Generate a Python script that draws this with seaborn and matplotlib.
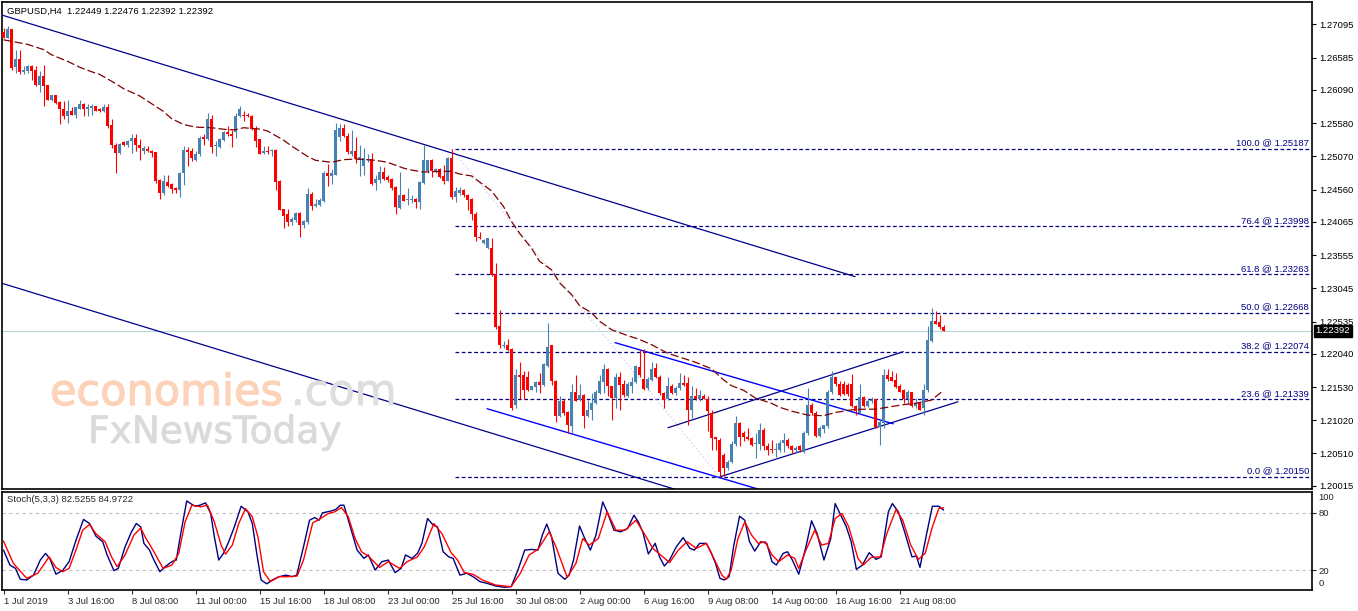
import numpy as np
import pandas as pd
import matplotlib
matplotlib.use("Agg")
import matplotlib.pyplot as plt
import matplotlib.patheffects as pe
import seaborn as sns

opens = [
    1.2698, 1.2688, 1.2702, 1.2644, 1.2656, 1.2636, 1.2638, 1.2645, 1.2639, 1.2617,
    1.2631, 1.2616, 1.2593, 1.2601, 1.2590, 1.2580, 1.2569, 1.2576, 1.2570, 1.2580,
    1.2588, 1.2580, 1.2581, 1.2585, 1.2580, 1.2576, 1.2583, 1.2555, 1.2525, 1.2512,
    1.2529, 1.2525, 1.2530, 1.2535, 1.2524, 1.2516, 1.2519, 1.2516, 1.2513, 1.2471,
    1.2451, 1.2468, 1.2464, 1.2459, 1.2455, 1.2481, 1.2517, 1.2515, 1.2501, 1.2510,
    1.2537, 1.2534, 1.2564, 1.2523, 1.2522, 1.2532, 1.2544, 1.2542, 1.2544, 1.2569,
    1.2571, 1.2571, 1.2569, 1.2551, 1.2533, 1.2512, 1.2516, 1.2515, 1.2517, 1.2469,
    1.2426, 1.2418, 1.2406, 1.2409, 1.2420, 1.2402, 1.2407, 1.2450, 1.2431, 1.2433,
    1.2438, 1.2481, 1.2477, 1.2479, 1.2537, 1.2550, 1.2539, 1.2510, 1.2516, 1.2502,
    1.2492, 1.2502, 1.2503, 1.2466, 1.2471, 1.2483, 1.2475, 1.2473, 1.2460, 1.2428,
    1.2448, 1.2440, 1.2440, 1.2442, 1.2437, 1.2466, 1.2484, 1.2501, 1.2483, 1.2487,
    1.2477, 1.2470, 1.2505, 1.2445, 1.2451, 1.2455, 1.2448, 1.2441, 1.2419, 1.2384,
    1.2374, 1.2366, 1.2366, 1.2326, 1.2246, 1.2216, 1.2218, 1.2211, 1.2126, 1.2172,
    1.2172, 1.2168, 1.2149, 1.2153, 1.2160, 1.2156, 1.2186, 1.2217, 1.2162, 1.2109,
    1.2131, 1.2114, 1.2093, 1.2146, 1.2133, 1.2141, 1.2108, 1.2118, 1.2129, 1.2144,
    1.2160, 1.2180, 1.2154, 1.2136, 1.2169, 1.2157, 1.2139, 1.2154, 1.2160, 1.2183,
    1.2166, 1.2151, 1.2164, 1.2182, 1.2169, 1.2144, 1.2134, 1.2155, 1.2144, 1.2151,
    1.2159, 1.2159, 1.2118, 1.2140, 1.2134, 1.2140, 1.2135, 1.2113, 1.2076, 1.2072,
    1.2049, 1.2029, 1.2038, 1.2066, 1.2098, 1.2083, 1.2077, 1.2075, 1.2066, 1.2066,
    1.2087, 1.2062, 1.2058, 1.2056, 1.2056, 1.2067, 1.2071, 1.2062, 1.2057, 1.2062,
    1.2054, 1.2082, 1.2126, 1.2113, 1.2078, 1.2088, 1.2093, 1.2145, 1.2168, 1.2157,
    1.2157, 1.2156, 1.2157, 1.2124, 1.2113, 1.2138, 1.2124, 1.2131, 1.2134, 1.2092,
    1.2098, 1.2172, 1.2169, 1.2164, 1.2154, 1.2148, 1.2135, 1.2145, 1.2124, 1.2128,
    1.2121, 1.2149, 1.2223, 1.2254, 1.2253, 1.22449,
]
highs = [
    1.2704, 1.2707, 1.2702, 1.2671, 1.2671, 1.2645, 1.2648, 1.2647, 1.2645, 1.2638,
    1.2647, 1.2616, 1.2602, 1.2602, 1.2592, 1.2592, 1.2593, 1.2583, 1.2583, 1.2593,
    1.2589, 1.2587, 1.2587, 1.2585, 1.2582, 1.2587, 1.2588, 1.2564, 1.2527, 1.2528,
    1.2530, 1.2532, 1.2541, 1.2541, 1.2533, 1.2523, 1.2523, 1.2517, 1.2513, 1.2472,
    1.2479, 1.2478, 1.2466, 1.2460, 1.2483, 1.2523, 1.2522, 1.2520, 1.2515, 1.2539,
    1.2542, 1.2573, 1.2571, 1.2530, 1.2535, 1.2546, 1.2554, 1.2548, 1.2574, 1.2584,
    1.2577, 1.2573, 1.2570, 1.2553, 1.2534, 1.2523, 1.2523, 1.2519, 1.2518, 1.2471,
    1.2427, 1.2426, 1.2414, 1.2421, 1.2421, 1.2410, 1.2458, 1.2452, 1.2441, 1.2443,
    1.2485, 1.2496, 1.2487, 1.2558, 1.2557, 1.2556, 1.2543, 1.2547, 1.2537, 1.2524,
    1.2520, 1.2511, 1.2512, 1.2479, 1.2492, 1.2491, 1.2479, 1.2474, 1.2461, 1.2483,
    1.2449, 1.2458, 1.2447, 1.2443, 1.2469, 1.2525, 1.2502, 1.2503, 1.2489, 1.2489,
    1.2494, 1.2506, 1.25187, 1.2460, 1.2460, 1.2457, 1.2449, 1.2443, 1.2421, 1.2391,
    1.2380, 1.2382, 1.2382, 1.2343, 1.2272, 1.2223, 1.2226, 1.2213, 1.2180, 1.2192,
    1.2177, 1.2177, 1.2155, 1.2162, 1.2174, 1.2190, 1.2251, 1.2218, 1.2164, 1.2139,
    1.2134, 1.2116, 1.2157, 1.2172, 1.2157, 1.2143, 1.2133, 1.2144, 1.2149, 1.2172,
    1.2189, 1.2182, 1.2155, 1.2174, 1.2176, 1.2164, 1.2160, 1.2169, 1.2187, 1.2210,
    1.2211, 1.2169, 1.2192, 1.2190, 1.2172, 1.2146, 1.2169, 1.2157, 1.2154, 1.2175,
    1.2172, 1.2169, 1.2155, 1.2151, 1.2149, 1.2142, 1.2139, 1.2118, 1.2077, 1.2075,
    1.2051, 1.2041, 1.2070, 1.2108, 1.2100, 1.2085, 1.2090, 1.2077, 1.2082, 1.2098,
    1.2090, 1.2067, 1.2072, 1.2067, 1.2072, 1.2082, 1.2075, 1.2064, 1.2063, 1.2064,
    1.2085, 1.2151, 1.2128, 1.2116, 1.2093, 1.2095, 1.2149, 1.2177, 1.2169, 1.2162,
    1.2162, 1.2159, 1.2173, 1.2126, 1.2157, 1.2139, 1.2134, 1.2138, 1.2135, 1.2103,
    1.2181, 1.2180, 1.2177, 1.2174, 1.2157, 1.2150, 1.2149, 1.2146, 1.2136, 1.2129,
    1.2157, 1.2246, 1.2274, 1.2269, 1.2264, 1.22476,
]
lows = [
    1.2688, 1.2688, 1.2640, 1.2635, 1.2633, 1.2633, 1.2635, 1.2625, 1.2615, 1.2606,
    1.2584, 1.2593, 1.2592, 1.2588, 1.2557, 1.2564, 1.2558, 1.2571, 1.2566, 1.2579,
    1.2569, 1.2569, 1.2570, 1.2576, 1.2575, 1.2575, 1.2551, 1.2520, 1.2482, 1.2511,
    1.2523, 1.2521, 1.2512, 1.2515, 1.2501, 1.2510, 1.2513, 1.2506, 1.2466, 1.2441,
    1.2448, 1.2460, 1.2451, 1.2451, 1.2444, 1.2463, 1.2492, 1.2500, 1.2500, 1.2507,
    1.2525, 1.2532, 1.2512, 1.2508, 1.2520, 1.2530, 1.2538, 1.2522, 1.2536, 1.2567,
    1.2561, 1.2568, 1.2548, 1.2522, 1.2510, 1.2510, 1.2510, 1.2508, 1.2456, 1.2424,
    1.2397, 1.2400, 1.2401, 1.2407, 1.2383, 1.2397, 1.2404, 1.2424, 1.2430, 1.2431,
    1.2437, 1.2461, 1.2465, 1.2478, 1.2530, 1.2537, 1.2510, 1.2508, 1.2497, 1.2477,
    1.2479, 1.2498, 1.2463, 1.2455, 1.2466, 1.2471, 1.2467, 1.2456, 1.2418, 1.2426,
    1.2438, 1.2433, 1.2436, 1.2428, 1.2426, 1.2465, 1.2482, 1.2475, 1.2481, 1.2474,
    1.2464, 1.2469, 1.2441, 1.2437, 1.2448, 1.2445, 1.2425, 1.2410, 1.2377, 1.2380,
    1.2373, 1.2365, 1.2323, 1.2242, 1.2213, 1.2213, 1.2209, 1.2118, 1.2121, 1.2134,
    1.2135, 1.2147, 1.2148, 1.2146, 1.2144, 1.2155, 1.2184, 1.2156, 1.2100, 1.2107,
    1.2110, 1.2082, 1.2082, 1.2131, 1.2131, 1.2090, 1.2107, 1.2103, 1.2127, 1.2142,
    1.2144, 1.2139, 1.2103, 1.2121, 1.2118, 1.2138, 1.2137, 1.2144, 1.2159, 1.2169,
    1.2148, 1.2149, 1.2162, 1.2167, 1.2141, 1.2121, 1.2133, 1.2143, 1.2141, 1.2149,
    1.2154, 1.2095, 1.2105, 1.2133, 1.2131, 1.2134, 1.2085, 1.2057, 1.2056, 1.2015,
    1.2017, 1.2026, 1.2036, 1.2062, 1.2062, 1.2070, 1.2072, 1.2063, 1.2044, 1.2057,
    1.2057, 1.2049, 1.2052, 1.2046, 1.2054, 1.2054, 1.2059, 1.2052, 1.2051, 1.2053,
    1.2052, 1.2080, 1.2110, 1.2077, 1.2077, 1.2082, 1.2090, 1.2143, 1.2155, 1.2140,
    1.2141, 1.2140, 1.2123, 1.2110, 1.2112, 1.2123, 1.2123, 1.2128, 1.2090, 1.2064,
    1.2090, 1.2163, 1.2162, 1.2151, 1.2145, 1.2128, 1.2127, 1.2122, 1.2121, 1.2117,
    1.2110, 1.2146, 1.2222, 1.2249, 1.2242, 1.22392,
]
closes = [
    1.2688, 1.2702, 1.2643, 1.2656, 1.2636, 1.2639, 1.2645, 1.2638, 1.2617, 1.2631,
    1.2615, 1.2593, 1.2601, 1.2589, 1.2579, 1.2569, 1.2576, 1.2571, 1.2583, 1.2587,
    1.2580, 1.2583, 1.2585, 1.2577, 1.2576, 1.2583, 1.2554, 1.2524, 1.2512, 1.2526,
    1.2525, 1.2531, 1.2536, 1.2524, 1.2520, 1.2520, 1.2515, 1.2512, 1.2470, 1.2451,
    1.2469, 1.2461, 1.2457, 1.2455, 1.2482, 1.2517, 1.2513, 1.2505, 1.2511, 1.2536,
    1.2534, 1.2564, 1.2522, 1.2525, 1.2533, 1.2544, 1.2542, 1.2538, 1.2569, 1.2579,
    1.2569, 1.2569, 1.2549, 1.2530, 1.2511, 1.2516, 1.2514, 1.2517, 1.2467, 1.2425,
    1.2416, 1.2406, 1.2411, 1.2420, 1.2402, 1.2408, 1.2450, 1.2431, 1.2434, 1.2440,
    1.2481, 1.2477, 1.2481, 1.2547, 1.2550, 1.2538, 1.2513, 1.2515, 1.2503, 1.2506,
    1.2504, 1.2503, 1.2464, 1.2473, 1.2483, 1.2473, 1.2471, 1.2458, 1.2429, 1.2448,
    1.2439, 1.2442, 1.2442, 1.2437, 1.2467, 1.2501, 1.2501, 1.2484, 1.2487, 1.2475,
    1.2470, 1.2505, 1.2444, 1.2454, 1.2455, 1.2447, 1.2440, 1.2419, 1.2383, 1.2381,
    1.2379, 1.2381, 1.2325, 1.2245, 1.2217, 1.2218, 1.2210, 1.2121, 1.2172, 1.2169,
    1.2149, 1.2149, 1.2154, 1.2160, 1.2156, 1.2188, 1.2215, 1.2162, 1.2108, 1.2131,
    1.2113, 1.2094, 1.2146, 1.2132, 1.2141, 1.2108, 1.2118, 1.2129, 1.2146, 1.2163,
    1.2180, 1.2154, 1.2136, 1.2169, 1.2156, 1.2141, 1.2157, 1.2161, 1.2185, 1.2171,
    1.2150, 1.2165, 1.2181, 1.2169, 1.2144, 1.2133, 1.2155, 1.2144, 1.2152, 1.2159,
    1.2156, 1.2117, 1.2139, 1.2134, 1.2141, 1.2135, 1.2116, 1.2075, 1.2073, 1.2023,
    1.2029, 1.2038, 1.2066, 1.2098, 1.2077, 1.2076, 1.2073, 1.2064, 1.2067, 1.2087,
    1.2062, 1.2057, 1.2056, 1.2058, 1.2067, 1.2071, 1.2062, 1.2056, 1.2059, 1.2056,
    1.2082, 1.2126, 1.2113, 1.2078, 1.2090, 1.2094, 1.2146, 1.2168, 1.2157, 1.2141,
    1.2142, 1.2143, 1.2124, 1.2116, 1.2138, 1.2124, 1.2131, 1.2133, 1.2092, 1.2099,
    1.2172, 1.2165, 1.2163, 1.2153, 1.2146, 1.2135, 1.2145, 1.2124, 1.2128, 1.2118,
    1.2149, 1.2225, 1.2255, 1.2250, 1.2245, 1.22392,
]

# moyenne mobile (ligne rouge foncé en tirets), lue à intervalles réguliers
ma_bars = [0, 6, 10, 12, 16, 19, 22, 24, 28, 30, 34, 36, 40, 42, 45, 48, 52, 56, 58, 60,
           64, 66, 70, 72, 76, 78, 82, 85, 88, 93, 96, 100, 102, 105, 109, 112, 114, 117, 122, 125,
           127, 129, 132, 134, 137, 139, 142, 144, 147, 149, 152, 156, 159, 162, 166, 170, 173, 177, 180, 182,
           185, 188, 192, 194, 197, 201, 205, 208, 212, 215, 218, 222, 225, 228, 232, 235]
ma_vals = [1.2686, 1.2679, 1.2671, 1.2663, 1.2653, 1.2644, 1.2637, 1.2633, 1.2619, 1.2611,
           1.2600, 1.2592, 1.2576, 1.2565, 1.2556, 1.2552, 1.2551, 1.2548, 1.2548, 1.2551,
           1.2549, 1.2546, 1.2532, 1.2523, 1.2507, 1.2501, 1.2498, 1.2502, 1.2503, 1.2501,
           1.2498, 1.2489, 1.2486, 1.2483, 1.2484, 1.2484, 1.2480, 1.2477, 1.2454, 1.2430,
           1.2407, 1.2389, 1.2366, 1.2346, 1.2333, 1.2313, 1.2295, 1.2278, 1.2267, 1.2254,
           1.2241, 1.2232, 1.2226, 1.2218, 1.2205, 1.2197, 1.2191, 1.2181, 1.2164, 1.2155,
           1.2148, 1.2136, 1.2128, 1.2122, 1.2116, 1.2110, 1.2109, 1.2114, 1.2118, 1.2119,
           1.2119, 1.2123, 1.2126, 1.2128, 1.2133, 1.2148]

k_bars = [0, 1.6, 3, 4.2, 5.8, 7.5, 9.2, 10.5, 11.6, 13.1,
          14.8, 16.4, 18.1, 20, 21.5, 23.1, 24.8, 25.9, 27.6, 28.7,
          30.4, 32, 33.2, 34.3, 35.1, 36.5, 37.6, 39.1, 40.4, 42.1,
          43.2, 44.3, 45.8, 46.9, 47.9, 49.1, 50.5, 51.8, 52.7, 53.8,
          55, 56.3, 57.7, 59.4, 61.1, 62.2, 63.3, 64.4, 65.8, 67.2,
          68.9, 70.6, 72.2, 73.3, 75, 76.5, 77.8, 78.9, 79.7, 81.7,
          83, 84.2, 85.1, 86.7, 88.4, 90.1, 91.2, 92.9, 94.6, 96.2,
          97.9, 99.4, 100.5, 102.1, 103.5, 104.6, 106, 107.4, 108.5, 109.9,
          111.3, 112.4, 114.1, 115.8, 117.4, 119.1, 120.8, 123, 125.2, 126.9,
          128.6, 130.3, 132, 133.6, 134.7, 135.8, 137, 138.6, 140.3, 141.4,
          142.5, 144, 145.3, 146.7, 148.1, 149.8, 150.9, 152.6, 154.3, 156,
          157.6, 158.7, 159.8, 161.2, 162.9, 164, 165.2, 166.5, 168.2, 169.9,
          171.6, 172.7, 174, 175.7, 176.8, 178, 179.1, 180.2, 181.4, 182.5,
          184, 185.3, 186.5, 187.8, 189.3, 190.8, 192.1, 193.2, 194.9, 196,
          197.2, 198.8, 200.6, 202, 203.4, 205.1, 206.8, 207.9, 209.1, 210.7,
          211.9, 213.2, 214.7, 216.4, 218.1, 219.4, 221.2, 222.2, 223.7, 225.4,
          227.1, 228.2, 229.1, 230.7, 232.2, 233.8, 235]
k_vals = [41, 25.5, 22, 10.7, 10, 15, 30.7, 37.6, 32, 16,
          20, 29, 51, 72.8, 68.6, 55.5, 49.7, 36, 19.7, 22,
          44.5, 60, 68.6, 65, 48, 41, 30.7, 18.6, 23.8, 29,
          30.7, 58, 92, 89, 86.5, 87.6, 90, 79, 55, 30.7,
          37.6, 49.7, 65, 86.5, 80.7, 68.6, 37.6, 10, 6, 10,
          13.4, 15, 13.4, 15, 44.5, 72, 74.8, 72, 79.6, 81.4,
          83, 87.6, 87.6, 65, 41, 32.4, 36, 20.3, 29, 30.7,
          17.6, 22, 36, 32.4, 37.6, 48, 73.8, 67, 65, 39.3,
          34, 32.4, 15, 17, 13.4, 8.3, 6.6, 3.8, 2.4, 3,
          20.3, 41, 41.7, 41, 56.6, 68, 55, 17, 10.7, 15,
          30.7, 66, 53, 41, 56.6, 91, 80.7, 61.7, 60, 63.4,
          77.2, 70.3, 60, 37, 48, 34, 24.5, 30.7, 44.5, 54,
          42.8, 41, 48, 48, 39.3, 27.2, 11.7, 10, 13.4, 44.5,
          76.2, 72, 49.7, 40, 49.7, 48, 29, 25.5, 37.6, 39.3,
          30.7, 16, 44.5, 71.4, 58, 30.7, 53, 89.3, 79, 65,
          49.7, 21, 25.5, 38.3, 31.4, 34, 80.7, 89.3, 80.7, 58,
          34, 34.8, 23, 56.6, 86.5, 86.5, 82.5255]
d_bars = [0, 2.5, 5.8, 8.6, 11.4, 13.1, 14.8, 16.4, 18.1, 19.8,
          21.5, 23.1, 25.4, 27, 28.4, 30.4, 32.6, 34.3, 35.4, 37.6,
          39.9, 42.1, 43.8, 45.4, 47.1, 49.3, 51, 52.7, 54.4, 55.5,
          57.2, 58.8, 60.5, 62.2, 63.6, 65, 66.7, 68.9, 71.1, 73.4,
          75, 77.3, 78.9, 81.2, 82.8, 84.5, 86.2, 87.9, 89.5, 91.2,
          94, 96.2, 99, 100.9, 103.5, 105.2, 107.6, 109.6, 111.9, 113.5,
          115.2, 117.4, 119.7, 123, 126.9, 129.2, 131.4, 133.6, 136.4, 138.1,
          140.9, 143.1, 144.8, 146.4, 148.7, 150.9, 153.1, 155.4, 158.1, 160.4,
          162.3, 164.3, 166.5, 168.7, 170.9, 173.2, 175.7, 177.4, 179.6, 180.7,
          181.9, 183.6, 185.3, 187, 188.7, 190.4, 192.1, 193.8, 196, 197.8,
          198.8, 200.6, 202.8, 204.5, 206.2, 207.9, 209.6, 211.3, 213.6, 214.9,
          216.9, 219.2, 220.8, 223.1, 224.8, 226.8, 228.7, 230.4, 232.2, 233.8,
          235]
d_vals = [50.3, 27, 11.7, 17, 34, 23, 18.6, 22, 41, 61.7,
          67.6, 58, 49.7, 34, 23.8, 36, 56.6, 64, 54.8, 39.3,
          22, 25.5, 37.6, 70.3, 87.6, 85.9, 87.6, 70.3, 46.2, 36.9,
          46.2, 68.6, 84.1, 75.5, 54.8, 18.6, 8.3, 13.4, 13.4, 14.1,
          30.7, 69.3, 72.8, 79, 80.7, 85.2, 75.5, 53, 39.3, 34.8,
          23, 29, 22, 29, 34, 44.5, 68.6, 58, 38.3, 30.7,
          17.6, 15.9, 10, 4.8, 3, 17, 36, 41.7, 60, 44.5,
          12.8, 27.2, 53, 46.2, 53, 80.7, 61.7, 61.7, 72, 56.6,
          42.8, 35.9, 28, 41, 49.7, 42.8, 48, 34, 15, 10.7,
          20.3, 53, 70.3, 56.6, 48, 49.7, 36, 29, 36, 32.4,
          22, 41, 61.7, 46.2, 48, 73.8, 79, 65, 32.4, 25.5,
          33.4, 34, 58, 83, 72, 46.2, 31.4, 37.6, 65, 84.1,
          84.9722]

# retracement de Fibonacci entre le plus haut (bougie 112) et le plus bas (bougie 179)
fib_levels = [100.0, 76.4, 61.8, 50.0, 38.2, 23.6, 0.0]
fib_prices = [1.25187, 1.23998, 1.23263, 1.22668, 1.22074, 1.21339, 1.20150]
fib_from_bar = 112.9
fib_anchor_bars = [112, 179]

# lignes de tendance tracées à la main : (bougie, prix) de départ et d'arrivée
trend_navy = [((-0.9, 1.27249), (212.9, 1.23224)),
              ((-0.9, 1.23132), (169.1, 1.19937)),
              ((179.1, 1.20152), (238.6, 1.21304)),
              ((166.1, 1.20905), (224.9, 1.22072))]
trend_blue = [((120.9, 1.21197), (188.4, 1.19968)),
              ((152.9, 1.22211), (222.4, 1.20966))]

last_price = 1.22392
price_ticks = [1.27095, 1.26585, 1.26090, 1.25580, 1.25070, 1.24560, 1.24065, 1.23555,
               1.23045, 1.22535, 1.22040, 1.21530, 1.21020, 1.20510, 1.20015]
date_ticks = list(range(0, 225, 16))
date_labels = ["1 Jul 2019", "3 Jul 16:00", "8 Jul 08:00", "11 Jul 00:00", "15 Jul 16:00",
               "18 Jul 08:00", "23 Jul 00:00", "25 Jul 16:00", "30 Jul 08:00", "2 Aug 00:00",
               "6 Aug 16:00", "9 Aug 08:00", "14 Aug 00:00", "16 Aug 16:00", "21 Aug 08:00"]

BLEU = "#4682B4"
ROUGE = "#FF0000"
MARINE = "#000080"
TXT = 6.8

sns.set_theme(style="white")
plt.rcParams["font.family"] = ["Liberation Sans", "DejaVu Sans"]

W, H = 1358, 611
fig = plt.figure(figsize=(W / 100, H / 100), dpi=100)
fig.patch.set_facecolor("white")

def px_box(left, top, right, bottom):
    return [left / W, 1 - bottom / H, (right - left) / W, (bottom - top) / H]

ax = fig.add_axes(px_box(2, 2, 1312, 489))
ax2 = fig.add_axes(px_box(2, 492, 1312, 590), sharex=ax)

df = pd.DataFrame({"o": opens, "h": highs, "l": lows, "c": closes})
df["bar"] = np.arange(len(df))
up = df["c"] >= df["o"]
couleurs = np.where(up, BLEU, ROUGE)

# prix courant
ax.axhline(last_price, color="#B0D8D8", lw=0.8, zorder=1)

# niveaux de Fibonacci
for lvl, p in zip(fib_levels, fib_prices):
    ax.hlines(p, fib_from_bar, 400, colors=MARINE, lw=0.9, linestyles=(0, (3, 2)), zorder=1.5)
    ax.annotate(f"{lvl:.1f} @ {p:.5f}", xy=(1, p), xycoords=("axes fraction", "data"),
                xytext=(-2, 1), textcoords="offset points", ha="right", va="bottom",
                fontsize=TXT, color=MARINE)
ax.plot(fib_anchor_bars, [fib_prices[0], fib_prices[-1]], color="#D4D4F0", lw=1,
        linestyle=":", zorder=1.5)

# lignes de tendance
for (x0, y0), (x1, y1) in trend_navy:
    ax.plot([x0, x1], [y0, y1], color="#00008B", lw=0.9, zorder=2)
for (x0, y0), (x1, y1) in trend_blue:
    ax.plot([x0, x1], [y0, y1], color="#0000FF", lw=1.0, zorder=2)

# bougies : mèches puis corps
ax.vlines(df["bar"], df["l"], df["h"], colors=couleurs, lw=0.8, zorder=3)
corps_bas = np.minimum(df["o"], df["c"])
corps_h = np.maximum((df["c"] - df["o"]).abs(), 0.00014)
ax.bar(df["bar"], corps_h, bottom=corps_bas, width=0.74, color=couleurs, linewidth=0, zorder=3)

# moyenne mobile par-dessus les bougies
sns.lineplot(x=ma_bars, y=ma_vals, ax=ax, color="#800000", lw=0.9,
             linestyle=(0, (6.5, 2.5)), zorder=4)

ax.set_xlim(-0.375, 327.1)
ax.set_ylim(1.19965, 1.27440)
ax.yaxis.tick_right()
ax.set_yticks(price_ticks)
ax.set_yticklabels([f"{t:.5f}" for t in price_ticks])
ax.tick_params(axis="y", which="both", right=True, direction="out", length=3, width=0.8,
               pad=2, labelsize=TXT, colors="black")
ax.tick_params(axis="x", bottom=False, labelbottom=False)
ax.set_xlabel("")
ax.set_ylabel("")

ax.annotate(f"{last_price:.5f}", xy=(1, last_price), xycoords=("axes fraction", "data"),
            xytext=(2.5, 0), textcoords="offset points", ha="left", va="center",
            fontsize=TXT, color="white",
            bbox=dict(boxstyle="square,pad=0.18", fc="black", ec="black"))

ax.text(5 / 1310, 1 - 9 / 487, "GBPUSD,H4  1.22449 1.22476 1.22392 1.22392",
        transform=ax.transAxes, ha="left", va="center", fontsize=TXT, color="black")

# stochastique
for niveau in (20, 80):
    ax2.axhline(niveau, color="#C0C0C0", lw=0.8, linestyle=(0, (3, 3)), zorder=1)
sns.lineplot(x=k_bars, y=k_vals, ax=ax2, color=MARINE, lw=1.0, zorder=3)
sns.lineplot(x=d_bars, y=d_vals, ax=ax2, color=ROUGE, lw=1.0, zorder=3)
ax2.set_ylim(-0.4, 101.3)
ax2.yaxis.tick_right()
ax2.set_yticks([20, 80])
ax2.set_yticklabels(["20", "80"])
ax2.tick_params(axis="y", right=True, direction="out", length=3, width=0.8, pad=2,
                labelsize=TXT)
ax2.annotate("100", xy=(1, 100), xycoords=("axes fraction", "data"), xytext=(4.5, 0),
             textcoords="offset points", ha="left", va="top", fontsize=TXT)
ax2.annotate("0", xy=(1, 0), xycoords=("axes fraction", "data"), xytext=(4.5, 1),
             textcoords="offset points", ha="left", va="bottom", fontsize=TXT)
ax2.text(5 / 1310, 0.92, "Stoch(5,3,3) 82.5255 84.9722", transform=ax2.transAxes,
         ha="left", va="center", fontsize=TXT)

ax2.set_xticks(date_ticks)
ax2.set_xticklabels(date_labels)
ax2.tick_params(axis="x", bottom=True, direction="out", length=3, width=0.8, pad=2,
                labelsize=TXT)
plt.setp(ax2.get_xticklabels(), ha="left")
ax2.set_xlabel("")
ax2.set_ylabel("")

for a in (ax, ax2):
    a.grid(False)
    a.set_facecolor("white")
    for s in a.spines.values():
        s.set_visible(True)
        s.set_color("black")
        s.set_linewidth(1.2)

# filigrane (un léger contour pour épaissir un peu les lettres comme sur l'original)
def filigrane(x, y, texte, taille, couleur, epaisseur):
    t = fig.text(x / W, 1 - y / H, texte, fontsize=taille, color=couleur,
                 ha="left", va="baseline", family="DejaVu Sans", zorder=10)
    t.set_path_effects([pe.Stroke(linewidth=epaisseur, foreground=couleur), pe.Normal()])

filigrane(50, 405, "economies", 31, "#FCD3B8", 0.9)
filigrane(291, 405, ".com", 31, "#DEDEDE", 0.6)
filigrane(88, 443, "FxNewsToday", 27, "#DADADA", 0.5)

fig.savefig("out.png", dpi=100, facecolor="white")
